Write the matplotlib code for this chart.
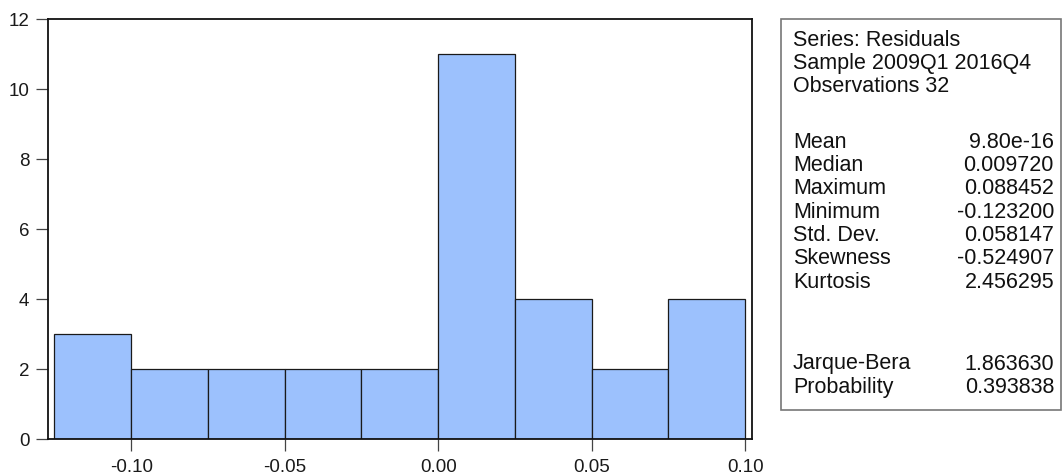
import numpy as np
import matplotlib.pyplot as plt
from matplotlib.patches import Rectangle

plt.rcParams['font.family'] = ['Liberation Sans', 'DejaVu Sans']

# Residual histogram: bin edges and counts
bin_edges = [-0.125, -0.100, -0.075, -0.050, -0.025, 0.000, 0.025, 0.050, 0.075, 0.100]
counts = [3, 2, 2, 2, 2, 11, 4, 2, 4]

x_ticks = [-0.10, -0.05, 0.00, 0.05, 0.10]
x_tick_labels = ['-0.10', '-0.05', '0.00', '0.05', '0.10']
y_ticks = [0, 2, 4, 6, 8, 10, 12]

# Summary statistics panel
header_lines = ['Series: Residuals', 'Sample 2009Q1 2016Q4', 'Observations 32']
stat_names = ['Mean', 'Median', 'Maximum', 'Minimum', 'Std. Dev.', 'Skewness', 'Kurtosis']
stat_values = ['9.80e-16', '0.009720', '0.088452', '-0.123200', '0.058147', '-0.524907', '2.456295']
test_names = ['Jarque-Bera', 'Probability']
test_values = ['1.863630', '0.393838']

W, H = 1062, 474
fig = plt.figure(figsize=(W / 100, H / 100), dpi=100)
fig.patch.set_facecolor('white')

ax = fig.add_axes([48 / W, (H - 439) / H, (752 - 48) / W, (439 - 19) / H])

edges = np.array(bin_edges)
ax.bar(edges[:-1], counts, width=np.diff(edges), align='edge',
       color='#9CC1FD', edgecolor='#1a1a1a', linewidth=0.9)

ax.set_xlim(-0.1271, 0.1022)
ax.set_ylim(0, 12)
ax.set_xticks(x_ticks)
ax.set_xticklabels(x_tick_labels)
ax.set_xticks(edges[1::2], minor=True)
ax.set_yticks(y_ticks)

ax.tick_params(axis='both', which='both', direction='out', length=8.5,
               width=0.9, color='#444444', labelsize=13.5, labelcolor='#1a1a1a')
ax.tick_params(axis='x', which='both', pad=6)
ax.tick_params(axis='y', pad=5)
for side in ax.spines.values():
    side.set_linewidth(1.3)
    side.set_color('#111111')

# Statistics box on the right
box_l, box_r, box_t, box_b = 781, 1061, 19, 410
fig.patches.append(Rectangle((box_l / W, 1 - box_b / H), (box_r - box_l) / W,
                             (box_b - box_t) / H, transform=fig.transFigure,
                             fill=False, edgecolor='#777777', linewidth=1.2))

text_kw = dict(fontsize=15.5, color='#111111', va='center')
line_h = 23.4
label_x = 793 / W
value_x = 1054 / W


def put_row(y_px, left, right=None):
    fig.text(label_x, 1 - y_px / H, left, ha='left', **text_kw)
    if right is not None:
        fig.text(value_x, 1 - y_px / H, right, ha='right', **text_kw)


y = 40
for line in header_lines:
    put_row(y, line)
    y += line_h

y = 142
for name, val in zip(stat_names, stat_values):
    put_row(y, name, val)
    y += line_h

y = 364
for name, val in zip(test_names, test_values):
    put_row(y, name, val)
    y += line_h

fig.savefig('out.png', dpi=100, facecolor='white')
